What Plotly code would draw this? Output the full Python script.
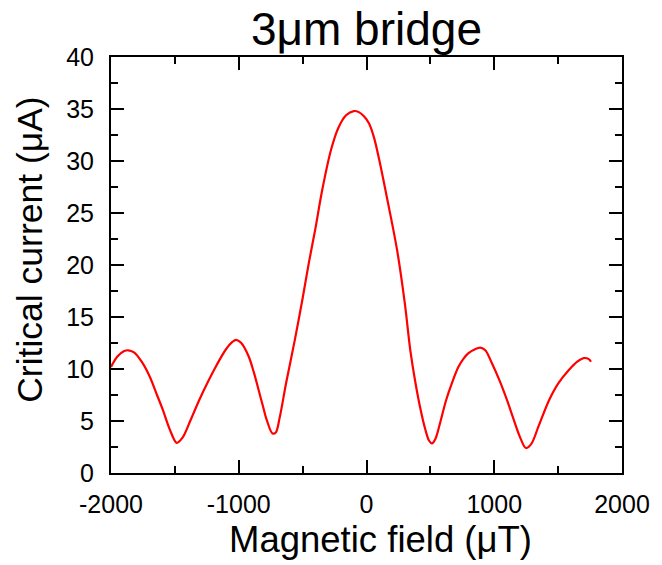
import plotly.graph_objects as go

field_uT = [-2000, -1950, -1900, -1866, -1820, -1760, -1698, -1640, -1595, -1540, -1486,
            -1440, -1380, -1310, -1240, -1181, -1100, -1050, -1021, -980, -922, -880,
            -845, -810, -781, -736, -710, -680, -630, -561, -500, -450, -400, -350,
            -277, -220, -160, -100, -60, -20, 20, 60, 100, 163, 240, 300, 343, 380, 420,
            460, 490, 512, 540, 580, 623, 670, 719, 760, 796, 850, 891, 930, 980,
            1041, 1100, 1145, 1200, 1248, 1290, 1350, 1429, 1500, 1584, 1650, 1700,
            1740, 1757]
current_uA = [10.2, 11.2, 11.7, 11.8, 11.6, 10.7, 9.3, 7.5, 6.1, 4.2, 2.9,
              3.4, 5.0, 7.0, 8.8, 10.2, 11.9, 12.6, 12.8, 12.5, 11.2, 9.6,
              8.0, 6.4, 5.1, 3.8, 3.9, 5.3, 8.6, 12.8, 16.8, 20.3, 23.5, 27.0,
              31.1, 33.2, 34.4, 34.8, 34.7, 34.3, 33.6, 32.2, 30.1, 26.3, 21.4, 16.3, 11.8, 8.9, 6.3,
              4.2, 3.1, 2.85, 3.3, 5.0, 7.0, 8.7, 10.2, 11.0, 11.5, 11.9, 12.05, 11.8, 10.6,
              8.9, 7.0, 5.4, 3.5, 2.4, 2.8, 4.6, 7.0, 8.6, 9.9, 10.7, 11.05,
              10.95, 10.7]

x_ticks = [-2000, -1000, 0, 1000, 2000]
x_tick_text = ["-2000", "-1000", "0", "1000", "2000"]
y_ticks = [0, 5, 10, 15, 20, 25, 30, 35, 40]

FONT = "Liberation Sans, Arial, sans-serif"

fig = go.Figure()
fig.add_trace(go.Scatter(
    x=field_uT, y=current_uA, mode="lines",
    line=dict(color="#ff0000", width=2.2, shape="spline", smoothing=0.9),
    showlegend=False,
))

axis_common = dict(
    showgrid=False, zeroline=False,
    showline=True, linecolor="black", linewidth=2, mirror="ticks",
    ticks="inside", ticklen=13, tickwidth=2, tickcolor="black",
    tickfont=dict(family=FONT, size=25, color="black"),
)

fig.update_xaxes(
    range=[-2000, 2000], tickvals=x_ticks, ticktext=x_tick_text,
    minor=dict(dtick=500, ticks="inside", ticklen=7, tickwidth=2, tickcolor="black"),
    ticklabelstandoff=8,
    **axis_common,
)
fig.update_yaxes(
    range=[0, 40], tickvals=y_ticks,
    minor=dict(dtick=2.5, ticks="inside", ticklen=7, tickwidth=2, tickcolor="black"),
    ticklabelstandoff=10,
    **axis_common,
)

fig.add_annotation(text="Magnetic field (μT)", xref="paper", yref="paper",
                   x=0.527, y=-0.161, xanchor="center", yanchor="middle",
                   showarrow=False, font=dict(family=FONT, size=36.5, color="black"))
fig.add_annotation(text="Critical current (μA)", xref="paper", yref="paper",
                   x=-0.159, y=0.536, xanchor="center", yanchor="middle", textangle=-90,
                   showarrow=False, font=dict(family=FONT, size=35.5, color="black"))

fig.update_layout(
    width=662, height=565,
    margin=dict(l=111, r=35, t=57, b=92),
    paper_bgcolor="white", plot_bgcolor="white",
    title=dict(text="3μm bridge", font=dict(family=FONT, size=46, color="black"),
               x=0.5536, xanchor="center", y=0.948, yanchor="middle", yref="container"),
)

fig.write_html("out.html")
